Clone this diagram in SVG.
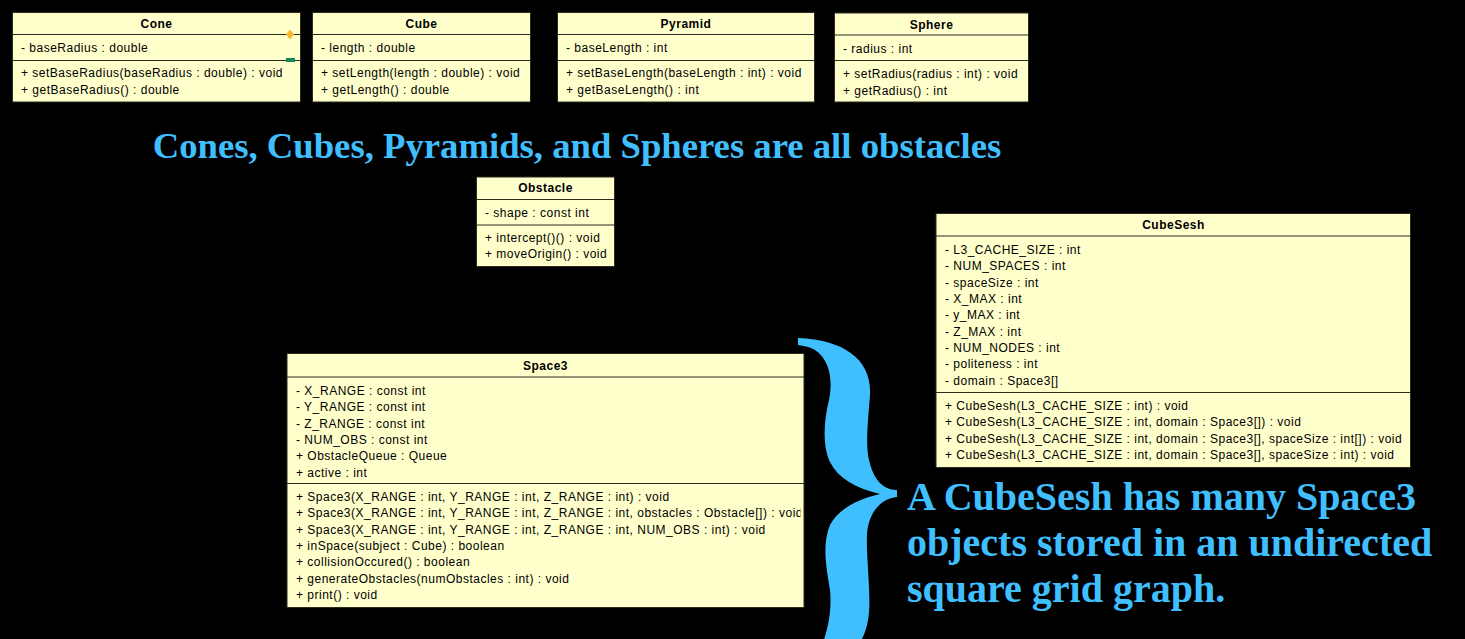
<svg xmlns="http://www.w3.org/2000/svg" width="1465" height="639" viewBox="0 0 1465 639">
<style>
.box{fill:#FFFFCC;stroke:#2b2b20;stroke-width:1}
.ln{stroke:#2b2b20;stroke-width:1}
.t{font-family:"Liberation Sans",Arial,sans-serif;font-size:12px;letter-spacing:0.5px;fill:#000}
.h{font-family:"Liberation Sans",Arial,sans-serif;font-size:12px;letter-spacing:0.5px;font-weight:bold;fill:#000;text-anchor:middle}
.big{font-family:"Liberation Serif","Times New Roman",serif;font-weight:bold;fill:#40BFFF}
</style>
<defs>
<clipPath id="clipSpace3"><rect x="287" y="353" width="513.5" height="254"/></clipPath>
</defs>
<rect x="0" y="0" width="1465" height="639" fill="#000"/>

<g id="Cone">
<rect class="box" x="12.5" y="12.5" width="288" height="89.5"/>
<line class="ln" x1="12.5" y1="34.5" x2="300.5" y2="34.5"/>
<line class="ln" x1="12.5" y1="60.5" x2="300.5" y2="60.5"/>
<text class="h" x="156.5" y="28">Cone</text>
<text class="t" x="21" y="52">- baseRadius : double</text>
<text class="t" x="21" y="77">+ setBaseRadius(baseRadius : double) : void</text>
<text class="t" x="21" y="94">+ getBaseRadius() : double</text>
<polygon points="290,29.5 294,34.5 290,39.5 286,34.5" fill="#F5B82E"/>
<rect x="286" y="58" width="9" height="4" fill="#178A5A"/>
</g>

<g id="Cube">
<rect class="box" x="312.5" y="12.5" width="218" height="89.5"/>
<line class="ln" x1="312.5" y1="34.5" x2="530.5" y2="34.5"/>
<line class="ln" x1="312.5" y1="60.5" x2="530.5" y2="60.5"/>
<text class="h" x="421.5" y="28">Cube</text>
<text class="t" x="321" y="52">- length : double</text>
<text class="t" x="321" y="77">+ setLength(length : double) : void</text>
<text class="t" x="321" y="94">+ getLength() : double</text>
</g>

<g id="Pyramid">
<rect class="box" x="557.5" y="12.5" width="257" height="89.5"/>
<line class="ln" x1="557.5" y1="34.5" x2="814.5" y2="34.5"/>
<line class="ln" x1="557.5" y1="60.5" x2="814.5" y2="60.5"/>
<text class="h" x="686" y="28">Pyramid</text>
<text class="t" x="566" y="52">- baseLength : int</text>
<text class="t" x="566" y="77">+ setBaseLength(baseLength : int) : void</text>
<text class="t" x="566" y="94">+ getBaseLength() : int</text>
</g>

<g id="Sphere">
<rect class="box" x="834.5" y="13" width="194" height="89"/>
<line class="ln" x1="834.5" y1="35" x2="1028.5" y2="35"/>
<line class="ln" x1="834.5" y1="60.5" x2="1028.5" y2="60.5"/>
<text class="h" x="931.5" y="28.5">Sphere</text>
<text class="t" x="843" y="53">- radius : int</text>
<text class="t" x="843" y="78">+ setRadius(radius : int) : void</text>
<text class="t" x="843" y="94.5">+ getRadius() : int</text>
</g>

<text class="big" x="577" y="158" font-size="36.7" text-anchor="middle">Cones, Cubes, Pyramids, and Spheres are all obstacles</text>

<g id="Obstacle">
<rect class="box" x="476.5" y="177" width="138" height="89.5"/>
<line class="ln" x1="476.5" y1="199.5" x2="614.5" y2="199.5"/>
<line class="ln" x1="476.5" y1="225" x2="614.5" y2="225"/>
<text class="h" x="545.5" y="192">Obstacle</text>
<text class="t" x="485" y="217">- shape : const int</text>
<text class="t" x="485" y="242">+ intercept()() : void</text>
<text class="t" x="485" y="258">+ moveOrigin() : void</text>
</g>

<g id="CubeSesh">
<rect class="box" x="936" y="213.5" width="474.5" height="254"/>
<line class="ln" x1="936" y1="236" x2="1410.5" y2="236"/>
<line class="ln" x1="936" y1="392.5" x2="1410.5" y2="392.5"/>
<text class="h" x="1173.5" y="229">CubeSesh</text>
<text class="t" x="945" y="254">- L3_CACHE_SIZE : int</text>
<text class="t" x="945" y="270.3">- NUM_SPACES : int</text>
<text class="t" x="945" y="286.7">- spaceSize : int</text>
<text class="t" x="945" y="303">- X_MAX : int</text>
<text class="t" x="945" y="319.4">- y_MAX : int</text>
<text class="t" x="945" y="335.7">- Z_MAX : int</text>
<text class="t" x="945" y="352.1">- NUM_NODES : int</text>
<text class="t" x="945" y="368.4">- politeness : int</text>
<text class="t" x="945" y="384.8">- domain : Space3[]</text>
<text class="t" x="945" y="410">+ CubeSesh(L3_CACHE_SIZE : int) : void</text>
<text class="t" x="945" y="426.4">+ CubeSesh(L3_CACHE_SIZE : int, domain : Space3[]) : void</text>
<text class="t" x="945" y="442.7">+ CubeSesh(L3_CACHE_SIZE : int, domain : Space3[], spaceSize : int[]) : void</text>
<text class="t" x="945" y="459">+ CubeSesh(L3_CACHE_SIZE : int, domain : Space3[], spaceSize : int) : void</text>
</g>

<g id="Space3">
<rect class="box" x="287" y="353.5" width="517" height="254"/>
<line class="ln" x1="287" y1="377" x2="804" y2="377"/>
<line class="ln" x1="287" y1="483.5" x2="804" y2="483.5"/>
<text class="h" x="545.5" y="370">Space3</text>
<g clip-path="url(#clipSpace3)">
<text class="t" x="296" y="395">- X_RANGE : const int</text>
<text class="t" x="296" y="411.3">- Y_RANGE : const int</text>
<text class="t" x="296" y="427.6">- Z_RANGE : const int</text>
<text class="t" x="296" y="444">- NUM_OBS : const int</text>
<text class="t" x="296" y="460.3">+ ObstacleQueue : Queue</text>
<text class="t" x="296" y="476.6">+ active : int</text>
<text class="t" x="296" y="501">+ Space3(X_RANGE : int, Y_RANGE : int, Z_RANGE : int) : void</text>
<text class="t" x="296" y="517.3">+ Space3(X_RANGE : int, Y_RANGE : int, Z_RANGE : int, obstacles : Obstacle[]) : void</text>
<text class="t" x="296" y="533.6">+ Space3(X_RANGE : int, Y_RANGE : int, Z_RANGE : int, NUM_OBS : int) : void</text>
<text class="t" x="296" y="550">+ inSpace(subject : Cube) : boolean</text>
<text class="t" x="296" y="566.3">+ collisionOccured() : boolean</text>
<text class="t" x="296" y="582.6">+ generateObstacles(numObstacles : int) : void</text>
<text class="t" x="296" y="599">+ print() : void</text>
</g>
</g>

<g id="connectors"></g>

<path d="M 798 338 C 845 340 872 360 870 395 C 868 420 866 440 868 455 C 872 478 882 490 897 490 L 897 497 C 882 498 868 512 867 535 C 866 560 872 600 868 620 C 866 632 862 640 858 645 L 822 645 C 828 630 832 610 830 590 C 826 565 822 545 830 525 C 838 510 855 500 880 494 C 855 488 838 478 830 462 C 822 445 824 420 829 400 C 833 380 830 360 815 350 C 810 347 804 346 798 345 Z" fill="#40BFFF"/>

<text class="big" font-size="40">
<tspan x="907" y="510">A CubeSesh has many Space3</tspan>
<tspan x="907" y="556">objects stored in an undirected</tspan>
<tspan x="907" y="602">square grid graph.</tspan>
</text>
</svg>
